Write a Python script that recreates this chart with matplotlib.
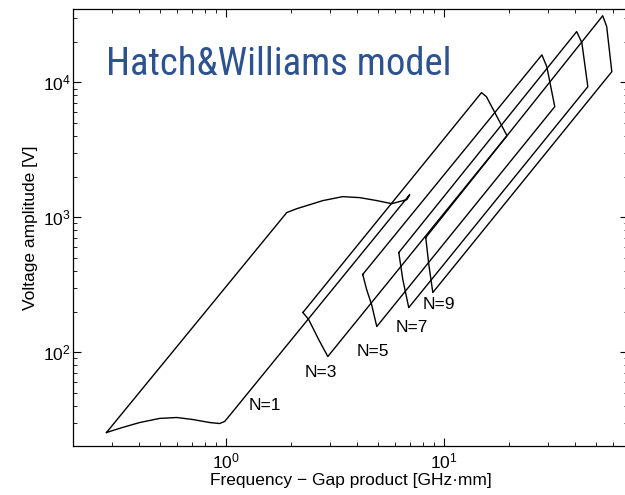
import matplotlib
import matplotlib.pyplot as plt
from matplotlib import font_manager as fm

matplotlib.use("Agg")

plt.rcParams.update({
    "font.family": ["Liberation Sans", "DejaVu Sans"],
    "font.size": 12.5,
    "mathtext.fontset": "custom",
    "mathtext.rm": "Liberation Sans",
    "axes.linewidth": 0.9,
    "lines.linewidth": 1.0,
})

# Multipactor zones: f*d [GHz*mm] vs voltage [V]
N1_FD = [0.284, 1.905, 2.12, 2.43, 2.79, 3.44, 4.12, 4.93, 5.77, 6.77, 6.98,
         1.043, 0.99, 0.938, 0.845, 0.706, 0.596, 0.498, 0.403, 0.337, 0.284]
N1_V = [25.4, 1084, 1159, 1241, 1330, 1423, 1399, 1330, 1262, 1352, 1472,
        34.0, 30.7, 29.6, 30.1, 31.7, 32.8, 32.3, 30.1, 27.7, 25.4]

N3_FD = [2.26, 14.9, 15.7, 19.5, 2.94, 2.67, 2.40, 2.26]
N3_V = [197, 8400, 7830, 4030, 92.9, 124, 175, 197]

N5_FD = [4.25, 28.2, 29.7, 32.3, 4.93, 4.67, 4.43, 4.25]
N5_V = [377, 16000, 13060, 6610, 155, 225, 291, 377]

N7_FD = [6.22, 40.7, 43.0, 45.8, 6.91, 6.49, 6.22]
N7_V = [548, 23800, 19700, 9290, 214, 346, 548]

N9_FD = [8.27, 53.6, 55.9, 59.0, 8.91, 8.54, 8.27]
N9_V = [708, 31200, 25900, 12000, 277, 447, 708]

LABELS = ["N=1", "N=3", "N=5", "N=7", "N=9"]
LABEL_FD = [1.52, 2.73, 4.72, 7.13, 9.49]
LABEL_V = [40.3, 70.8, 101, 152, 225]

TITLE = "Hatch&Williams model"
TITLE_WIDTH_PX = 347


def narrow_font():
    # pick a condensed sans if one is installed, else plain Liberation Sans
    wanted = ["Liberation Sans Narrow", "Roboto Condensed", "DejaVu Sans",
              "Open Sans", "Noto Sans"]
    for name in wanted:
        for f in fm.fontManager.ttflist:
            if f.name == name and ("Narrow" in name or "Condensed" in name
                                   or f.stretch in ("condensed", "semi-condensed",
                                                    "extra-condensed", 500 - 1)):
                if f.style == "normal" and f.weight in (400, "normal", "regular"):
                    return f.fname
    return None


fig = plt.figure(figsize=(6.25, 4.95), dpi=100)
ax = fig.add_axes([0.1173, 0.098, 0.8875, 0.8838])
ax.set_xscale("log")
ax.set_yscale("log")

for xs, ys in [(N1_FD, N1_V), (N3_FD, N3_V), (N5_FD, N5_V),
               (N7_FD, N7_V), (N9_FD, N9_V)]:
    ax.plot(xs, ys, color="black", linewidth=1.0)

for lab, x, y in zip(LABELS, LABEL_FD, LABEL_V):
    ax.text(x, y, lab, ha="center", va="center", fontsize=12.5)

ax.set_xlim(0.2, 70)
ax.set_ylim(20, 3.5e4)
ax.tick_params(which="both", direction="in", top=True, right=True)
ax.tick_params(which="major", length=6, width=0.8)
ax.tick_params(which="minor", length=3, width=0.6)
ax.tick_params(axis="y", pad=2)
ax.spines["right"].set_visible(False)

ax.set_xlabel("Frequency \u2212 Gap product [GHz\u00b7mm]", labelpad=1)
ax.set_ylabel("Voltage amplitude [V]", labelpad=3)

fpath = narrow_font()
if fpath:
    tprop = fm.FontProperties(fname=fpath, size=32)
else:
    tprop = fm.FontProperties(family="Liberation Sans", size=32)
title = ax.text(0.059, 0.849, TITLE, transform=ax.transAxes,
                ha="left", va="baseline", color="#2C5290", fontproperties=tprop)

# shrink the heading until it spans the same width as in the original
renderer = fig.canvas.get_renderer()
w = title.get_window_extent(renderer).width
if w > TITLE_WIDTH_PX:
    title.set_fontsize(32 * TITLE_WIDTH_PX / w)

fig.savefig("out.png", dpi=100)
